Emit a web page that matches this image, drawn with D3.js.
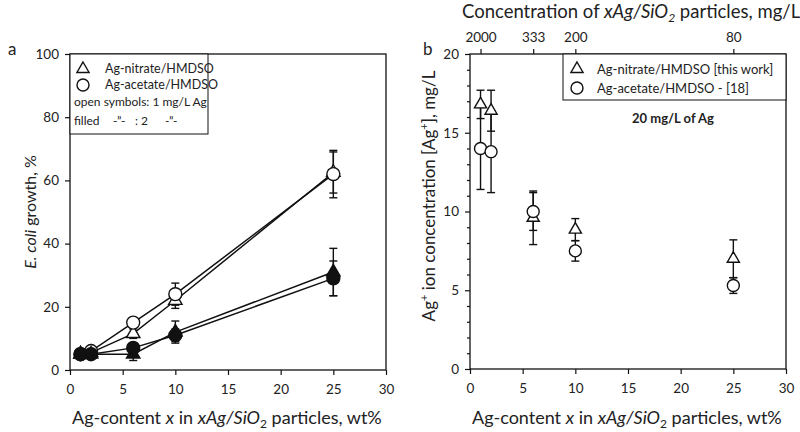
<!DOCTYPE html>
<html><head><meta charset="utf-8">
<script src="https://cdn.jsdelivr.net/npm/d3@7"></script>
<style>body{margin:0;background:#fff}svg{display:block}text{font-family:Lato,"Open Sans",sans-serif;fill:#222}</style>
</head><body><svg id="c" width="800" height="432"></svg>
<script>
// ---- data ----
const xValues = [1, 2, 6, 10, 25];
// panel a: E. coli growth, %
const nitrateOpen = [5, 5.5, 11.5, 22, 62.5];
const nitrateOpenErr = [0.8, 0.8, 1.5, 2.5, 6.5];
const acetateOpen = [5, 6, 15, 24, 62];
const acetateOpenErr = [0.8, 0.8, 1.5, 3.5, 7.5];
const nitrateFilled = [5, 5, 5, 12, 31];
const nitrateFilledErr = [0.8, 0.8, 2, 3.5, 7.5];
const acetateFilled = [5, 5, 7, 11, 29];
const acetateFilledErr = [0.8, 0.8, 1.5, 2, 5.5];
// panel b: Ag+ ion concentration, mg/L
const nitrateIon = [16.8, 16.4, 9.6, 8.85, 7.0];
const nitrateIonErr = [0.9, 1.3, 1.7, 0.7, 1.2];
const acetateIon = [14.0, 13.8, 10.0, 7.5, 5.3];
const acetateIonErr = [2.6, 2.6, 1.2, 0.65, 0.5];
// top axis: particle concentration (mg/L) at x positions
const topTickX = [1, 6, 10, 25];
const topTickLabels = ["2000", "333", "200", "80"];
const xTicks = [0, 5, 10, 15, 20, 25, 30];
const yTicksA = [0, 20, 40, 60, 80, 100];
const yTicksB = [0, 5, 10, 15, 20];

const svg = d3.select("#c");
const triA = d3.symbol().type(d3.symbolTriangle).size(78);
const circA = d3.symbol().type(d3.symbolCircle).size(Math.PI * 42);
const triB = d3.symbol().type(d3.symbolTriangle).size(64);
const circB = d3.symbol().type(d3.symbolCircle).size(Math.PI * 36);

function frame(g, x, y) {
  const [x0, x1] = x.range(), [y0, y1] = y.range();
  g.append("rect").attr("x", x0).attr("y", y1).attr("width", x1 - x0).attr("height", y0 - y1)
    .attr("fill", "none").attr("stroke", "#111").attr("stroke-width", 1.3);
}
function styleAxis(sel) {
  sel.select(".domain").remove();
  sel.selectAll("line").attr("stroke", "#111").attr("stroke-width", 1.2);
  sel.selectAll("text").style("font-size", "13.5px").style("font-family", "Lato, sans-serif").attr("fill", "#222");
}
function series(g, x, y, vals, errs, sym, fill, line) {
  if (line) {
    g.append("path").datum(vals).attr("fill", "none").attr("stroke", "#111").attr("stroke-width", 1.5)
      .attr("d", d3.line().x((d, i) => x(xValues[i])).y(d => y(d)));
  }
  const eb = g.append("g").attr("stroke", "#111").attr("stroke-width", 1.4);
  vals.forEach((v, i) => {
    const cx = x(xValues[i]), t = y(v + errs[i]), b = y(v - errs[i]);
    eb.append("line").attr("x1", cx).attr("x2", cx).attr("y1", t).attr("y2", b);
    eb.append("line").attr("x1", cx - 4).attr("x2", cx + 4).attr("y1", t).attr("y2", t);
    eb.append("line").attr("x1", cx - 4).attr("x2", cx + 4).attr("y1", b).attr("y2", b);
  });
  return () => {
    g.append("g").selectAll("path").data(vals).join("path")
      .attr("d", sym).attr("transform", (d, i) => `translate(${x(xValues[i])},${y(d)})`)
      .attr("fill", fill).attr("stroke", "#111").attr("stroke-width", 1.4);
  };
}

// ===== Panel a =====
const xa = d3.scaleLinear().domain([0, 30]).range([70, 386]);
const ya = d3.scaleLinear().domain([0, 100]).range([370, 54]);
const ga = svg.append("g");
ga.append("g").attr("transform", "translate(0,370)").call(d3.axisBottom(xa).tickValues(xTicks).tickSize(5).tickPadding(9)).call(styleAxis);
ga.append("g").attr("transform", "translate(70,0)").call(d3.axisLeft(ya).tickValues(yTicksA).tickSize(5).tickPadding(6)).call(styleAxis);
frame(ga, xa, ya);
const ma = [
  series(ga, xa, ya, nitrateOpen, nitrateOpenErr, triA, "#fff", true),
  series(ga, xa, ya, acetateOpen, acetateOpenErr, circA, "#fff", true),
  series(ga, xa, ya, nitrateFilled, nitrateFilledErr, triA, "#111", true),
  series(ga, xa, ya, acetateFilled, acetateFilledErr, circA, "#111", true)
];
ma.forEach(f => f());
// legend a
ga.append("rect").attr("x", 70).attr("y", 54).attr("width", 138).attr("height", 80)
  .attr("fill", "#fff").attr("stroke", "#111").attr("stroke-width", 1);
ga.append("path").attr("d", triB).attr("transform", "translate(83,69)").attr("fill", "#fff").attr("stroke", "#111").attr("stroke-width", 1.4);
ga.append("path").attr("d", circB).attr("transform", "translate(83,85)").attr("fill", "#fff").attr("stroke", "#111").attr("stroke-width", 1.4);
ga.append("text").attr("x", 105).attr("y", 73).style("font-size", "12.5px").text("Ag-nitrate/HMDSO");
ga.append("text").attr("x", 105).attr("y", 89).style("font-size", "12.5px").text("Ag-acetate/HMDSO");
ga.append("text").attr("x", 74).attr("y", 106).style("font-size", "12px").text("open symbols: 1 mg/L Ag");
const filledRow = [["filled", 74], ["-\u201D-", 113], [": 2", 135], ["-\u201D-", 165]];
filledRow.forEach(([t, x]) => ga.append("text").attr("x", x).attr("y", 125).style("font-size", "12px").text(t));
ga.append("text").attr("x", 8).attr("y", 55).style("font-size", "17px").text("a");
// y label a
const yla = ga.append("text").attr("transform", "translate(36,212) rotate(-90)").attr("text-anchor", "middle").style("font-size", "16px");
yla.append("tspan").style("font-style", "italic").text("E. coli");
yla.append("tspan").text(" growth, %");
// x label
function xLabel(g, x0) {
  const t = g.append("text").attr("x", x0).attr("y", 424).style("font-size", "18px");
  t.append("tspan").text("Ag-content ");
  t.append("tspan").style("font-style", "italic").text("x");
  t.append("tspan").text(" in ");
  t.append("tspan").style("font-style", "italic").text("xAg/SiO");
  t.append("tspan").attr("dy", 4).style("font-size", "12px").text("2");
  t.append("tspan").attr("dy", -4).text(" particles, wt%");
}
xLabel(ga, 72);

// ===== Panel b =====
const xb = d3.scaleLinear().domain([0, 30]).range([470, 786]);
const yb = d3.scaleLinear().domain([0, 20]).range([369, 54]);
const gb = svg.append("g");
gb.append("g").attr("transform", "translate(0,369)").call(d3.axisBottom(xb).tickValues(xTicks).tickSize(5).tickPadding(9)).call(styleAxis);
gb.append("g").attr("transform", "translate(470,0)").call(d3.axisLeft(yb).tickValues(yTicksB).tickSize(5).tickPadding(6)).call(styleAxis);
gb.append("g").attr("transform", "translate(470,0)").call(d3.axisLeft(yb).tickValues(d3.range(0, 21, 1).filter(v => v % 5)).tickSize(3).tickFormat("")).call(styleAxis);
gb.append("g").attr("transform", "translate(0,54)").call(d3.axisTop(xb).tickValues(topTickX).tickFormat((d, i) => topTickLabels[i]).tickSize(5).tickPadding(7)).call(styleAxis);
frame(gb, xb, yb);
const mb = [
  series(gb, xb, yb, nitrateIon, nitrateIonErr, triB, "#fff", false),
  series(gb, xb, yb, acetateIon, acetateIonErr, circB, "#fff", false)
];
mb.forEach(f => f());
// legend b
gb.append("rect").attr("x", 563).attr("y", 54).attr("width", 223).attr("height", 46)
  .attr("fill", "#fff").attr("stroke", "#111").attr("stroke-width", 1);
gb.append("path").attr("d", triB).attr("transform", "translate(577,69)").attr("fill", "#fff").attr("stroke", "#111").attr("stroke-width", 1.4);
gb.append("path").attr("d", circB).attr("transform", "translate(577,88)").attr("fill", "#fff").attr("stroke", "#111").attr("stroke-width", 1.4);
gb.append("text").attr("x", 597).attr("y", 74).style("font-size", "13px").text("Ag-nitrate/HMDSO [this work]");
gb.append("text").attr("x", 597).attr("y", 93).style("font-size", "13px").text("Ag-acetate/HMDSO - [18]");
gb.append("text").attr("x", 673).attr("y", 123).attr("text-anchor", "middle").style("font-size", "13px").style("font-weight", "bold").text("20 mg/L of Ag");
gb.append("text").attr("x", 423).attr("y", 55).style("font-size", "17px").text("b");
// y label b
const ylb = gb.append("text").attr("transform", "translate(435,196) rotate(-90)").attr("text-anchor", "middle").style("font-size", "17px");
ylb.append("tspan").text("Ag");
ylb.append("tspan").attr("dy", -7).style("font-size", "11px").text("+");
ylb.append("tspan").attr("dy", 7).text(" ion concentration [Ag");
ylb.append("tspan").attr("dy", -7).style("font-size", "11px").text("+");
ylb.append("tspan").attr("dy", 7).text("], mg/L");
// top title
const tt = gb.append("text").attr("x", 462).attr("y", 18).style("font-size", "18.5px");
tt.append("tspan").text("Concentration of ");
tt.append("tspan").style("font-style", "italic").text("xAg/SiO");
tt.append("tspan").attr("dy", 4).style("font-size", "12px").style("font-style", "italic").text("2");
tt.append("tspan").attr("dy", -4).text(" particles, mg/L");
xLabel(gb, 472);
</script></body></html>
